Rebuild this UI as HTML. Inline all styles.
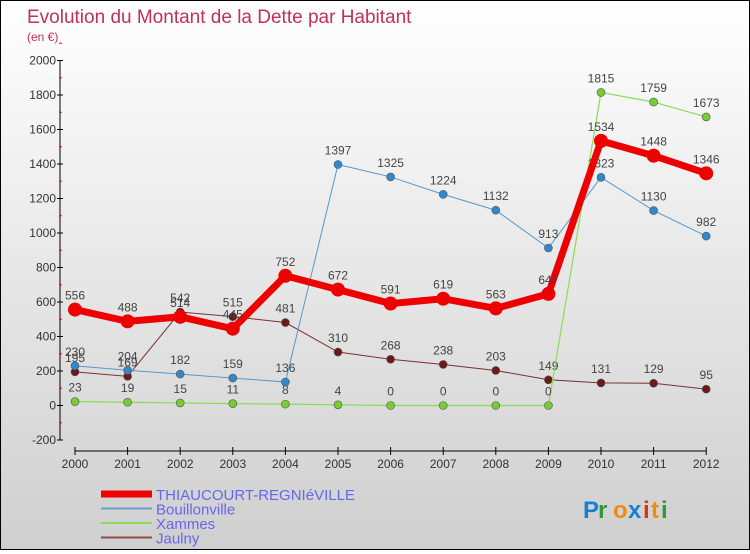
<!DOCTYPE html>
<html><head><meta charset="utf-8"><style>
html,body{margin:0;padding:0}
body{width:750px;height:550px;overflow:hidden;font-family:"Liberation Sans",sans-serif}
#wrap{position:relative;width:748px;height:548px;border:1px solid #000;background:linear-gradient(#ffffff,#cfcfcf)}
</style></head><body>
<div id="wrap">
<svg id="chart" width="748" height="548"></svg>
</div>
<script>
const years=["2000","2001","2002","2003","2004","2005","2006","2007","2008","2009","2010","2011","2012"];
const thiaucourt=[556,488,514,445,752,672,591,619,563,647,1534,1448,1346];
const bouillonville=[230,204,182,159,136,1397,1325,1224,1132,913,1323,1130,982];
const xammes=[23,19,15,11,8,4,0,0,0,0,1815,1759,1673];
const jaulny=[195,169,542,515,481,310,268,238,203,149,131,129,95];
const yTicks=[-200,0,200,400,600,800,1000,1200,1400,1600,1800,2000];
const NS="http://www.w3.org/2000/svg";
const svg=document.getElementById('chart');
function xs(i){return 74+i*52.6;}
function ys(v){return 404.5-v*0.1725;}
function mk(t,a,p){const e=document.createElementNS(NS,t);for(const k in a)e.setAttribute(k,a[k]);(p||svg).appendChild(e);return e;}
let t=mk('text',{x:26,y:22,'font-size':19,fill:'#c0305a'});t.textContent="Evolution du Montant de la Dette par Habitant";


t=mk('text',{x:26,y:40,'font-size':12,fill:'#c0305a'});t.textContent="(en €)";


// y axis
let ax=mk('line',{x1:59,y1:ys(2000),x2:59,y2:ys(-200),stroke:'#000','stroke-width':1});


yTicks.forEach(v=>{
 mk('line',{x1:56,x2:62,y1:ys(v),y2:ys(v),stroke:'#000'});
 mk('line',{x1:58,x2:61,y1:ys(v+100),y2:ys(v+100),stroke:'#f00'});
 const l=mk('text',{x:55,y:ys(v)+4,'font-size':12,fill:'#333','text-anchor':'end'});l.textContent=v;
 
 
});
ax=mk('line',{x1:xs(0),y1:450,x2:xs(12),y2:450,stroke:'#000'});


years.forEach((y,i)=>{
 mk('line',{x1:xs(i),x2:xs(i),y1:446,y2:454,stroke:'#000'});
 const l=mk('text',{x:xs(i),y:467,'font-size':12,fill:'#333','text-anchor':'middle'});l.textContent=y;
 
 
});
const series=[
 {name:'jaulny',d:jaulny,c:'#7a3030',w:1,r:4,f:'#6a1a1a'},
 {name:'xammes',d:xammes,c:'#88dd55',w:1.2,r:4,f:'#77cc33'},
 {name:'bouillonville',d:bouillonville,c:'#5599cc',w:1,r:4,f:'#3388cc'},
 {name:'thiaucourt',d:thiaucourt,c:'#ee0000',w:7,r:7,f:'#ee0000'}
];
series.forEach(s=>{
 const g=mk('g',{});
 
 
 mk('polyline',{points:s.d.map((v,i)=>xs(i)+','+ys(v)).join(' '),fill:'none',stroke:s.c,'stroke-width':s.w},g);
 s.d.forEach((v,i)=>{
  const c=mk('circle',{cx:xs(i),cy:ys(v),r:s.r,fill:s.f,stroke:'#555','stroke-width':s.name==='thiaucourt'?0:0.6},g);
  
  
  const l=mk('text',{x:xs(i),y:ys(v)-10,'font-size':12,fill:'#444','text-anchor':'middle'},g);l.textContent=v;
  
  
 });
});
const leg=[['THIAUCOURT-REGNIéVILLE','#ee0000',7],['Bouillonville','#6aa0cc',2],['Xammes','#88dd55',2],['Jaulny','#8a4a4a',2]];
leg.forEach((L,i)=>{
 const y=493+i*14.5;
 const g=mk('g',{});
 
 
 mk('line',{x1:100,x2:151,y1:y,y2:y,stroke:L[1],'stroke-width':L[2]},g);
 const tx=mk('text',{x:155,y:y+6,'font-size':15,fill:'#6666ee'},g);tx.textContent=L[0];
});
const lg=mk('g',{});


const letters=[['P','#1a7fd4'],['r','#2a9a3a'],['o','#f08a10'],['x','#1a7fd4'],['i','#e03010'],['t','#f08a10'],['i','#2a9a3a']];
let lx=582;
letters.forEach(L=>{const e=mk('text',{x:lx,y:517,'font-size':24,'font-weight':'bold',fill:L[1]},lg);e.textContent=L[0];lx+=L[0]==='i'?8:(L[0]==='t'?10:15);});
</script>
</body></html>
